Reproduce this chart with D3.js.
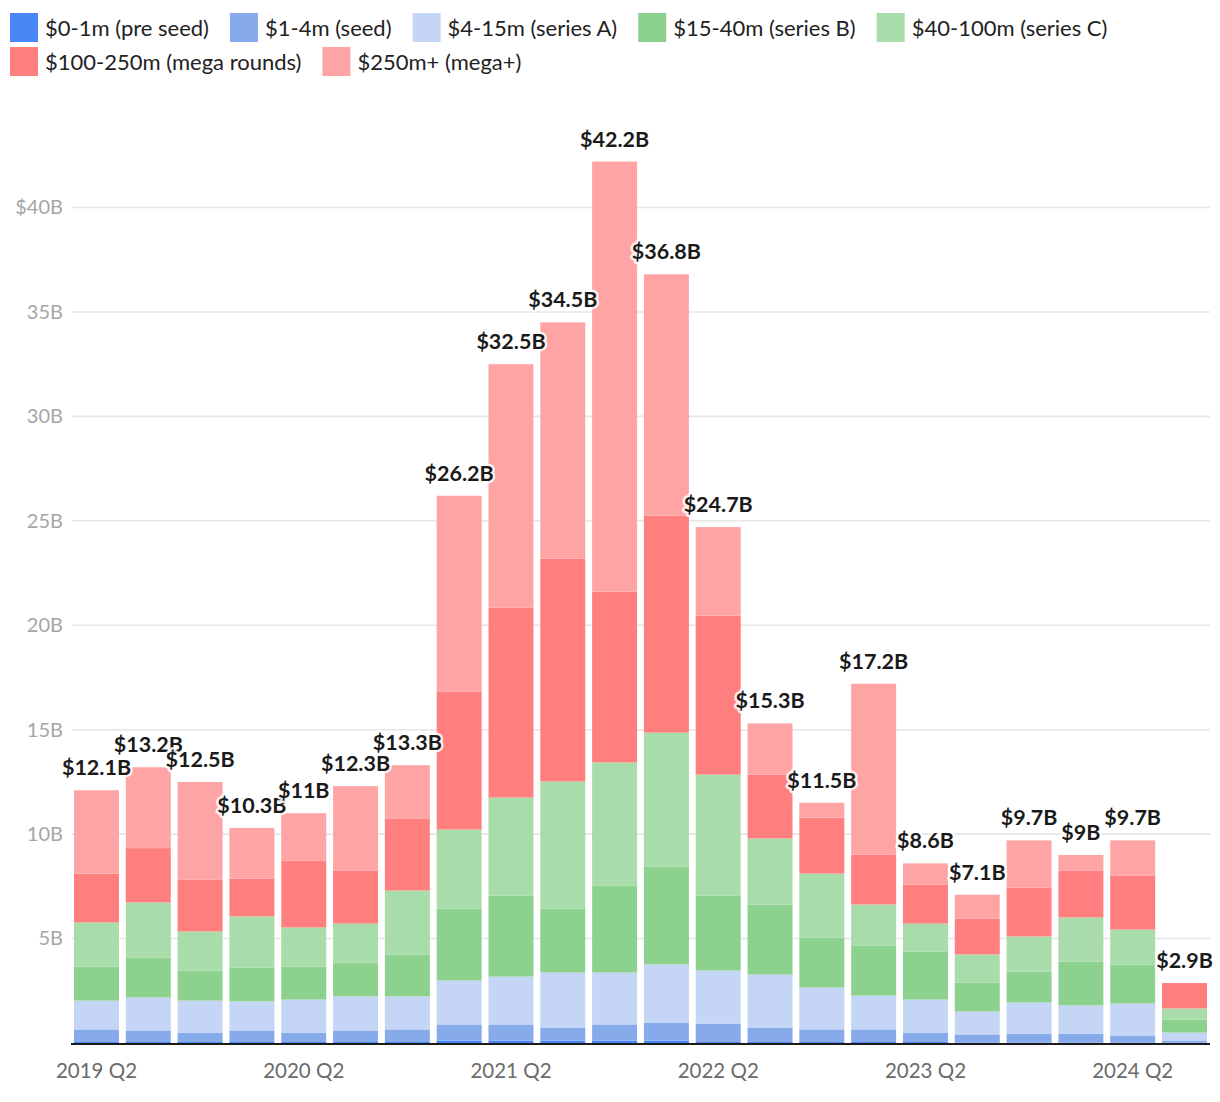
<!DOCTYPE html>
<html>
<head>
<meta charset="utf-8">
<script src="https://cdn.jsdelivr.net/npm/d3@7/dist/d3.min.js"></script>
<style>
  html, body { margin: 0; padding: 0; background: #fff; }
  svg { display: block; font-family: Lato, "Noto Sans", sans-serif; }
</style>
</head>
<body>
<svg id="chart" width="1220" height="1102"></svg>
<script>
// ---- data (values in $B) ----
const quarters = ["2019 Q2","2019 Q3","2019 Q4","2020 Q1","2020 Q2","2020 Q3","2020 Q4",
  "2021 Q1","2021 Q2","2021 Q3","2021 Q4","2022 Q1","2022 Q2","2022 Q3","2022 Q4",
  "2023 Q1","2023 Q2","2023 Q3","2023 Q4","2024 Q1","2024 Q2","2024 Q3"];
const seriesNames = ["$0-1m (pre seed)","$1-4m (seed)","$4-15m (series A)","$15-40m (series B)",
  "$40-100m (series C)","$100-250m (mega rounds)","$250m+ (mega+)"];
const preSeed  = [0.05,0.05,0.05,0.05,0.05,0.05,0.05,0.12,0.12,0.12,0.12,0.12,0.05,0.05,0.05,0.05,0.05,0.01,0.01,0.01,0.01,0.01];
const seed     = [0.60,0.55,0.45,0.55,0.45,0.55,0.60,0.77,0.77,0.62,0.77,0.86,0.88,0.69,0.60,0.60,0.45,0.40,0.44,0.44,0.35,0.11];
const seriesA  = [1.38,1.58,1.53,1.39,1.58,1.63,1.58,2.10,2.29,2.63,2.48,2.78,2.54,2.54,2.01,1.62,1.58,1.10,1.49,1.35,1.53,0.38];
const seriesB  = [1.63,1.91,1.44,1.62,1.58,1.62,2.01,3.45,3.88,3.07,4.17,4.69,3.59,3.35,2.39,2.40,2.30,1.39,1.48,2.10,1.87,0.62];
const seriesC  = [2.11,2.64,1.87,2.45,1.87,1.87,3.06,3.78,4.69,6.08,5.89,6.41,5.79,3.16,3.06,1.96,1.34,1.34,1.68,2.11,1.67,0.53];
const mega     = [2.34,2.60,2.49,1.81,3.21,2.54,3.45,6.61,9.10,10.67,8.18,10.39,7.61,3.06,2.68,2.39,1.87,1.72,2.34,2.25,2.59,1.22];
const megaPlus = [3.99,3.87,4.67,2.43,2.26,4.04,2.55,9.37,11.65,11.31,20.59,11.55,4.24,2.45,0.71,8.18,1.01,1.14,2.26,0.74,1.68,0.00];
const colors = ["#4a86f5","#87aaeb","#c5d5f5","#8cd28e","#a8dcaa","#ff7f7f","#ffa4a4"];
const yTicks = [5,10,15,20,25,30,35,40];
const yTickLabels = ["5B","10B","15B","20B","25B","30B","35B","$40B"];
const xTickLabels = ["2019 Q2","2020 Q2","2021 Q2","2022 Q2","2023 Q2","2024 Q2"];

// ---- build table ----
const seriesArrays = [preSeed, seed, seriesA, seriesB, seriesC, mega, megaPlus];
const keys = seriesNames;
const table = quarters.map((q, i) => {
  const row = { quarter: q };
  keys.forEach((k, j) => row[k] = seriesArrays[j][i]);
  return row;
});
const stacked = d3.stack().keys(keys)(table);

const svg = d3.select("#chart");
const x = d3.scaleBand().domain(quarters).range([71, 1210]).paddingInner(0.132).paddingOuter(0.058);
const y = d3.scaleLinear().domain([0, 40]).range([1043, 207.5]);
const color = d3.scaleOrdinal().domain(keys).range(colors);

// grid lines
svg.append("g").selectAll("line").data(yTicks).join("line")
  .attr("x1", 72).attr("x2", 1210)
  .attr("y1", d => y(d)).attr("y2", d => y(d))
  .attr("stroke", "#e6e6e6").attr("stroke-width", 1.6);

// y axis labels
const yAxis = d3.axisLeft(y).tickValues(yTicks).tickSize(0).tickPadding(0)
  .tickFormat((d, i) => yTickLabels[i]);
const yg = svg.append("g").attr("transform", "translate(63,0)").call(yAxis);
yg.select(".domain").remove();
yg.selectAll("text").attr("font-size", 20).attr("fill", "#a6a6a6")
  .attr("font-family", "Lato, sans-serif");

// bars
svg.append("g").selectAll("g").data(stacked).join("g")
  .attr("fill", d => color(d.key))
  .selectAll("rect").data(d => d).join("rect")
  .attr("x", d => x(d.data.quarter))
  .attr("width", x.bandwidth())
  .attr("y", d => y(d[1]))
  .attr("height", d => Math.max(0, y(d[0]) - y(d[1])));

// baseline
svg.append("line").attr("x1", 71).attr("x2", 1210)
  .attr("y1", y(0) + 1).attr("y2", y(0) + 1)
  .attr("stroke", "#1b1b1b").attr("stroke-width", 2);

// x axis labels
const xAxis = d3.axisBottom(x).tickValues(xTickLabels).tickSize(0).tickPadding(0);
const xg = svg.append("g").attr("transform", `translate(0,${y(0)})`).call(xAxis);
xg.select(".domain").remove();
xg.selectAll("text").attr("font-size", 20.5).attr("fill", "#6b6b6b")
  .attr("font-family", "Lato, sans-serif").attr("dy", null).attr("y", 35);

// totals
const totals = table.map(r => ({ quarter: r.quarter, total: d3.sum(keys, k => r[k]) }));
const fmt = v => { const t = Math.round(v * 10) / 10; return "$" + (Number.isInteger(t) ? t : t.toFixed(1)) + "B"; };
const lab = svg.append("g");
lab.selectAll("text").data(totals).join("text")
  .attr("x", d => x(d.quarter) + x.bandwidth() / 2)
  .attr("y", d => y(d.total) - 15)
  .attr("text-anchor", "middle")
  .attr("font-size", 21.5).attr("font-weight", 700).attr("fill", "#1a1a1a")
  .attr("stroke", "#fff").attr("stroke-width", 5).attr("stroke-opacity", 0.85)
  .attr("stroke-linejoin", "round").attr("paint-order", "stroke")
  .text(d => fmt(d.total));

// legend
const leg = svg.append("g");
let lx = 10, ly = 13;
keys.forEach((k, i) => {
  const g = leg.append("g");
  const t = g.append("text").attr("font-size", 22).attr("fill", "#222")
    .attr("dominant-baseline", "central").text(k);
  const w = t.node().getComputedTextLength();
  if (lx + 35 + w > 1215) { lx = 10; ly += 34; }
  g.append("rect").attr("x", lx).attr("y", ly).attr("width", 28).attr("height", 29).attr("fill", colors[i]);
  t.attr("x", lx + 35).attr("y", ly + 14);
  lx += 35 + w + 21;
});
</script>
</body>
</html>
